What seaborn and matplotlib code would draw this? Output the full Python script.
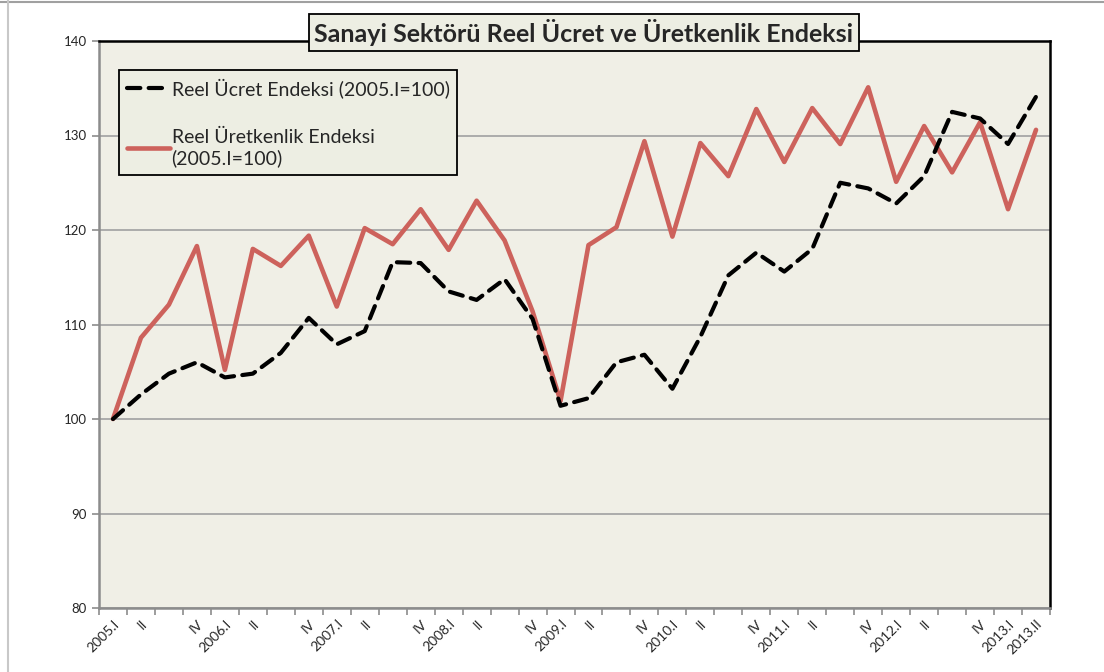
import numpy as np
import pandas as pd
import matplotlib
matplotlib.use("Agg")
import matplotlib.pyplot as plt
import seaborn as sns
from matplotlib.lines import Line2D

# ── Data ─────────────────────────────────────────────────────
quarters = (
    ["2005.I", "2005.II", "2005.III", "2005.IV"]
    + [f"{y}.{q}" for y in range(2006, 2013) for q in ["I", "II", "III", "IV"]]
    + ["2013.I", "2013.II"]
)
tick_labels = (
    ["2005.I", "II", "", "IV"]
    + [lab for y in range(2006, 2013) for lab in [f"{y}.I", "II", "", "IV"]]
    + ["2013.I", "2013.II"]
)
ucret = [100.0, 102.6, 104.8, 106.0, 104.4, 104.8, 107.0, 110.7, 107.9, 109.3,
         116.6, 116.5, 113.5, 112.6, 114.8, 110.6, 101.4, 102.2, 106.0, 106.8,
         103.2, 108.7, 115.2, 117.6, 115.6, 118.0, 125.0, 124.4, 122.8, 125.7,
         132.5, 131.8, 129.1, 134.1]
uretkenlik = [100.0, 108.6, 112.1, 118.3, 105.2, 118.0, 116.2, 119.4, 111.9, 120.2,
              118.5, 122.2, 117.9, 123.1, 118.9, 111.4, 101.9, 118.4, 120.3, 129.4,
              119.3, 129.2, 125.7, 132.8, 127.2, 132.9, 129.1, 135.1, 125.1, 131.0,
              126.1, 131.4, 122.2, 130.6]

label_ucret = "Reel Ücret Endeksi (2005.I=100)"
label_uret = "Reel Üretkenlik Endeksi\n(2005.I=100)"

df = pd.DataFrame({"donem": quarters, "x": np.arange(len(quarters)),
                   "ucret": ucret, "uretkenlik": uretkenlik})

# ── Style ────────────────────────────────────────────────────
sns.set_style("white")
plt.rcParams["font.family"] = ["Lato", "DejaVu Sans"]

bg = "#F0EFE6"
red = "#CD625C"
grid_c = "#A6A6A6"

fig = plt.figure(figsize=(11.04, 6.72), dpi=100)
ax = fig.add_axes([99 / 1104, 1 - 608 / 672, 951 / 1104, 567 / 672])
ax.set_facecolor(bg)

sns.lineplot(data=df, x="x", y="uretkenlik", ax=ax, color=red, linewidth=3.3,
             label=label_uret, zorder=3)
sns.lineplot(data=df, x="x", y="ucret", ax=ax, color="black", linewidth=3.0,
             label=label_ucret, zorder=4)
ax.lines[-1].set_dashes([3.2, 2.0])
ax.lines[-1].set_dash_capstyle("round")

ax.set_xlim(-0.5, len(quarters) - 0.5)
ax.set_ylim(80, 140)
ax.set_yticks(range(80, 141, 10))
ax.yaxis.grid(True, color=grid_c, linewidth=1.3)
ax.set_axisbelow(True)
ax.set_xlabel("")
ax.set_ylabel("")

# labels at category centres, ticks on boundaries
ax.set_xticks(np.arange(len(quarters)))
ax.set_xticklabels(tick_labels, rotation=45, ha="right", rotation_mode="anchor",
                   fontsize=10)
ax.set_xticks(np.arange(-0.5, len(quarters), 1), minor=True)
ax.tick_params(axis="x", which="major", length=0, pad=7)
ax.tick_params(axis="x", which="minor", length=5, width=1.2, color="#8C8C8C",
               direction="out", bottom=True)
ax.tick_params(axis="y", length=5, width=1.2, color="#8C8C8C", direction="out",
               left=True, labelsize=9.5, pad=4)

for side in ["left", "bottom"]:
    ax.spines[side].set_color("#8C8C8C")
    ax.spines[side].set_linewidth(1.8)
for side in ["top", "right"]:
    ax.spines[side].set_color("black")
    ax.spines[side].set_linewidth(1.8)

handles = [Line2D([], [], color="black", linewidth=3.0, dashes=[3.2, 2.0],
                  dash_capstyle="round"),
           Line2D([], [], color=red, linewidth=3.3)]
leg = ax.legend(handles, [label_ucret, label_uret], loc="upper left",
                bbox_to_anchor=(20 / 951, 1 - 29 / 567), fontsize=14,
                frameon=True, fancybox=False, edgecolor="black",
                facecolor="#EDEEE3", framealpha=1, handlelength=2.2,
                handletextpad=0.1, labelspacing=1.6, borderpad=0.4,
                borderaxespad=0)
leg.get_frame().set_linewidth(1.3)
for t in leg.get_texts():
    t.set_linespacing(1.25)

ax.set_title("Sanayi Sektörü Reel Ücret ve Üretkenlik Endeksi", fontsize=18,
             fontweight="bold", x=0.51, y=1.0, va="center",
             bbox=dict(boxstyle="square,pad=0.2", facecolor="#EDEEE3",
                       edgecolor="black", linewidth=1.3))

# chart border
fig.add_artist(Line2D([0, 1], [1 - 1.5 / 672] * 2, color="#A0A0A0", linewidth=1.5))
fig.add_artist(Line2D([8 / 1104] * 2, [0, 1], color="#C8C8C8", linewidth=1.5))

fig.savefig("out.png", dpi=100)
